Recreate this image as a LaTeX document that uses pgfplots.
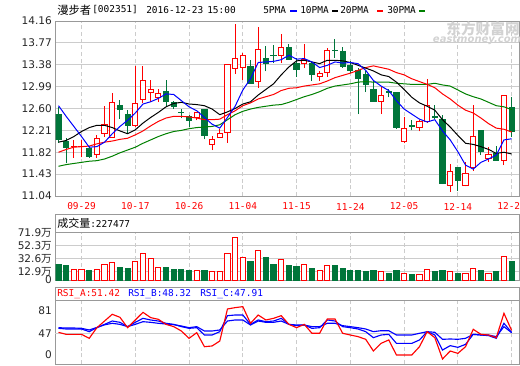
\documentclass[border=0pt]{standalone}
\usepackage{pgfplots}
\pgfplotsset{compat=1.18}
\usepgfplotslibrary{statistics}
\usepackage{fontspec}
\setmainfont{DejaVu Sans}
\newfontfamily\cjk{Noto Sans CJK SC}
\newfontfamily\mono{DejaVu Sans Mono}
\definecolor{kred}{HTML}{FF0000}
\definecolor{kgreen}{HTML}{00753A}
\definecolor{gridc}{HTML}{CCCCCC}
\definecolor{framec}{HTML}{999999}
\definecolor{ma30}{HTML}{008000}
\definecolor{wm}{HTML}{D2D2D2}

\pgfplotsset{
  panel/.style={
    scale only axis, width=347.625pt, anchor=south west,
    xmin=-0.39, xmax=59.96,
    axis line style={framec, line width=0.75pt},
    major tick length=0pt,
    xtick={3,10,17,24,31,38,45,52,59},
    xmajorgrids, ymajorgrids,
    x grid style={gridc, dash pattern=on 3pt off 2pt, line width=0.75pt},
    y grid style={gridc, line width=0.75pt},
    yticklabel style={anchor=east, inner sep=0pt, xshift=-2.6pt, font=\fontsize{7.9}{8}\selectfont, text=black!85},
  },
  kcandle/.style 2 args={
    boxplot/draw direction=y,
    boxplot/box extend=0.68,
    boxplot/draw/median/.code={},
    boxplot/draw/average/.code={},
    boxplot/draw/lower whisker/.code={\draw[#1, line width=0.75pt] (boxplot box cs:\pgfplotsboxplotvalue{lower whisker},0.5) -- (boxplot box cs:\pgfplotsboxplotvalue{lower quartile},0.5);},
    boxplot/draw/upper whisker/.code={\draw[#1, line width=0.75pt] (boxplot box cs:\pgfplotsboxplotvalue{upper quartile},0.5) -- (boxplot box cs:\pgfplotsboxplotvalue{upper whisker},0.5);},
    boxplot/draw/box/.code={\draw[draw=#1, fill=#2, line width=0.75pt] (boxplot box cs:\pgfplotsboxplotvalue{lower quartile},0) rectangle (boxplot box cs:\pgfplotsboxplotvalue{upper quartile},1);},
  },
}
% \cu / \cd {index}{open}{high}{low}{close}
\newcommand\cu[5]{\addplot[kcandle={kred}{white}, boxplot prepared={draw position=#1, lower whisker=#4, lower quartile=#2, median=#2, upper quartile=#5, upper whisker=#3}] coordinates {};}
\newcommand\cd[5]{\addplot[kcandle={kgreen}{kgreen}, boxplot prepared={draw position=#1, lower whisker=#4, lower quartile=#5, median=#5, upper quartile=#2, upper whisker=#3}] coordinates {};}

\pgfplotstableread{
k ma5 ma10 ma20 ma30
0 12.65 12.00 11.82 11.57
1 12.46 12.03 11.87 11.60
2 12.28 12.10 11.91 11.62
3 12.10 12.19 11.92 11.64
4 11.91 12.26 11.93 11.66
5 11.92 12.30 11.97 11.67
6 12.00 12.30 12.00 11.70
7 12.15 12.26 12.02 11.75
8 12.28 12.20 12.05 11.81
9 12.39 12.15 12.07 11.86
10 12.52 12.22 12.13 11.91
11 12.68 12.34 12.20 11.98
12 12.72 12.44 12.29 12.04
13 12.78 12.53 12.37 12.10
14 12.86 12.63 12.43 12.15
15 12.85 12.69 12.46 12.19
16 12.74 12.71 12.46 12.21
17 12.63 12.68 12.45 12.24
18 12.56 12.67 12.43 12.26
19 12.44 12.65 12.40 12.27
20 12.32 12.59 12.40 12.28
21 12.25 12.49 12.41 12.31
22 12.44 12.54 12.49 12.40
23 12.64 12.60 12.56 12.49
24 12.93 12.68 12.65 12.55
25 13.13 12.72 12.70 12.59
26 13.42 12.84 12.77 12.62
27 13.43 12.94 12.81 12.64
28 13.44 13.04 12.85 12.66
29 13.47 13.20 12.92 12.67
30 13.55 13.34 12.96 12.71
31 13.48 13.45 12.97 12.76
32 13.49 13.46 13.00 12.81
33 13.43 13.43 13.02 12.85
34 13.33 13.40 13.04 12.90
35 13.37 13.46 13.09 12.96
36 13.43 13.46 13.15 13.00
37 13.41 13.45 13.19 13.02
38 13.42 13.42 13.23 13.04
39 13.40 13.37 13.28 13.07
40 13.28 13.32 13.33 13.08
41 13.10 13.27 13.36 13.07
42 13.00 13.20 13.33 13.07
43 12.92 13.17 13.30 13.07
44 12.74 13.07 13.24 13.05
45 12.59 12.94 13.20 13.04
46 12.50 12.80 13.13 13.03
47 12.41 12.70 13.08 13.03
48 12.36 12.64 13.03 13.03
49 12.40 12.57 12.97 13.05
50 12.20 12.40 12.86 13.02
51 12.04 12.27 12.77 13.00
52 11.83 12.12 12.66 12.93
53 11.59 11.98 12.57 12.86
54 11.52 11.96 12.52 12.81
55 11.64 11.92 12.43 12.77
56 11.70 11.87 12.33 12.71
57 11.77 11.80 12.25 12.65
58 12.04 11.82 12.23 12.63
59 12.06 11.79 12.18 12.58
}\matable

\pgfplotstableread{
k a b c
0 48.5 54.6 55.6
1 45.4 53.6 55.1
2 45.4 53.6 55.1
3 45.4 53.6 54.6
4 39.3 49.5 52.1
5 55.6 55.6 56.0
6 65.8 60.7 60.0
7 76.1 65.8 62.3
8 71.5 63.8 60.7
9 55.6 57.2 57.2
10 67.4 63.8 60.7
11 79.1 69.9 64.8
12 71.0 67.4 63.8
13 68.4 65.8 62.3
14 60.7 62.3 61.2
15 57.2 60.7 60.2
16 50.5 57.2 58.2
17 39.3 54.6 55.6
18 48.0 55.6 57.2
19 26.5 44.4 50.5
20 27.6 44.4 50.5
21 35.2 49.5 52.1
22 84.2 74.0 65.8
23 86.3 75.0 67.4
24 87.8 75.0 67.4
25 62.3 60.7 59.7
26 75.0 67.4 65.8
27 67.4 64.8 63.8
28 69.9 65.8 63.8
29 74.0 69.9 65.8
30 60.7 60.7 60.7
31 55.6 58.7 59.7
32 60.7 59.7 59.7
33 47.0 54.6 57.2
34 47.0 55.6 57.2
35 68.9 67.4 62.3
36 68.9 65.8 62.3
37 47.0 57.2 58.7
38 44.4 55.6 57.2
39 41.9 53.6 55.6
40 37.8 49.5 53.6
41 19.9 40.3 49.5
42 31.6 44.4 51.0
43 36.8 45.4 51.0
44 13.8 31.6 44.4
45 13.8 31.6 44.4
46 13.8 31.6 44.4
47 26.5 36.8 47.0
48 49.5 49.5 49.5
49 40.3 44.4 48.5
50 7.7 21.4 37.8
51 19.9 28.1 38.3
52 16.3 25.5 37.8
53 26.5 30.1 39.3
54 53.1 45.4 45.4
55 45.4 44.4 44.4
56 44.4 43.4 44.4
57 40.3 39.3 41.9
58 77.6 62.3 57.2
59 51.4 48.3 47.9
}\rsitable

\begin{document}
\begin{tikzpicture}
% ---------------- price panel ----------------
\begin{axis}[panel, at={(41.625pt,126.75pt)}, height=131.25pt,
  ymin=11.04, ymax=14.16,
  ytick={11.04,11.43,11.82,12.21,12.60,12.99,13.38,13.77,14.16},
  yticklabels={11.04,11.43,11.82,12.21,12.60,12.99,13.38,13.77,14.16},
  xticklabels={09-29,10-17,10-26,11-04,11-15,11-24,12-05,12-14,12-23},
  xticklabel style={anchor=center, yshift=-7.9pt, text=kred, font=\mono\fontsize{7.1}{8}\selectfont},
]
\cd{0}{12.50}{12.62}{11.99}{12.05}
\cd{1}{12.02}{12.08}{11.62}{11.91}
\cu{2}{11.92}{12.03}{11.72}{11.93}
\cu{3}{11.92}{12.03}{11.73}{11.93}
\cd{4}{11.88}{11.93}{11.72}{11.75}
\cu{5}{11.78}{12.12}{11.72}{12.06}
\cu{6}{12.16}{12.64}{12.09}{12.31}
\cu{7}{12.09}{12.87}{12.09}{12.71}
\cd{8}{12.65}{12.75}{12.42}{12.59}
\cd{9}{12.49}{12.57}{12.15}{12.30}
\cu{10}{12.29}{13.35}{12.28}{12.69}
\cu{11}{12.76}{13.35}{12.69}{13.10}
\cu{12}{12.89}{13.11}{12.72}{12.94}
\cu{13}{12.79}{12.94}{12.72}{12.86}
\cd{14}{12.91}{13.11}{12.63}{12.72}
\cd{15}{12.70}{12.74}{12.60}{12.64}
\cd{16}{12.53}{12.60}{12.43}{12.52}
\cd{17}{12.45}{12.48}{12.27}{12.39}
\cu{18}{12.44}{12.54}{12.39}{12.52}
\cd{19}{12.58}{12.60}{12.05}{12.11}
\cu{20}{11.96}{12.11}{11.86}{12.05}
\cu{21}{12.08}{12.24}{12.08}{12.16}
\cu{22}{12.18}{13.38}{11.99}{13.38}
\cu{23}{13.31}{14.10}{13.22}{13.49}
\cu{24}{13.33}{13.59}{13.11}{13.55}
\cd{25}{13.35}{13.47}{13.04}{13.05}
\cu{26}{13.08}{14.05}{12.97}{13.65}
\cd{27}{13.50}{13.71}{13.26}{13.41}
\cd{28}{13.55}{13.73}{13.41}{13.54}
\cu{29}{13.55}{13.92}{13.41}{13.69}
\cd{30}{13.69}{13.75}{13.47}{13.47}
\cd{31}{13.41}{13.50}{13.17}{13.30}
\cu{32}{13.41}{13.75}{13.32}{13.47}
\cd{33}{13.40}{13.44}{13.09}{13.20}
\cu{34}{13.17}{13.26}{13.09}{13.22}
\cu{35}{13.24}{13.68}{13.16}{13.64}
\cd{36}{13.64}{13.84}{13.50}{13.63}
\cd{37}{13.61}{13.70}{13.33}{13.34}
\cd{38}{13.37}{13.45}{13.24}{13.27}
\cd{39}{13.27}{13.32}{12.50}{13.14}
\cd{40}{13.21}{13.26}{12.89}{13.02}
\cd{41}{12.94}{13.11}{12.72}{12.72}
\cu{42}{12.72}{12.99}{12.50}{12.83}
\cd{43}{12.90}{12.94}{12.80}{12.89}
\cd{44}{12.89}{12.89}{12.24}{12.26}
\cu{45}{12.01}{12.44}{11.98}{12.25}
\cd{46}{12.29}{12.40}{12.21}{12.28}
\cu{47}{12.27}{12.40}{12.19}{12.36}
\cu{48}{12.36}{13.13}{12.35}{12.65}
\cd{49}{12.46}{12.67}{12.42}{12.44}
\cd{50}{12.41}{12.48}{11.25}{11.27}
\cu{51}{11.22}{11.61}{11.12}{11.48}
\cd{52}{11.54}{11.54}{11.13}{11.31}
\cu{53}{11.23}{11.64}{11.21}{11.45}
\cu{54}{11.54}{12.67}{11.49}{12.10}
\cd{55}{12.21}{12.21}{11.77}{11.84}
\cu{56}{11.71}{11.92}{11.65}{11.78}
\cd{57}{11.79}{11.94}{11.67}{11.67}
\cu{58}{11.67}{12.83}{11.59}{12.83}
\cd{59}{12.61}{12.80}{12.09}{12.19}
\addplot[ma30, line width=0.75pt, mark=none] table[x=k, y=ma30] {\matable};
\addplot[kred, line width=0.75pt, mark=none] table[x=k, y=ma20] {\matable};
\addplot[black, line width=0.75pt, mark=none] table[x=k, y=ma10] {\matable};
\addplot[blue, line width=0.75pt, mark=none] table[x=k, y=ma5] {\matable};
\end{axis}

% ---------------- volume panel ----------------
\begin{axis}[panel, at={(41.625pt,63.75pt)}, height=35.475pt,
  ymin=0, ymax=71.9,
  ytick={0,12.9,32.6,52.3,71.9},
  yticklabels={0,12.9{\cjk 万},32.6{\cjk 万},52.3{\cjk 万},71.9{\cjk 万}},
  xticklabels={},
]
\addplot[ybar, bar width=0.68, bar shift=0pt, draw=kgreen, fill=kgreen, line width=0.75pt] table {
k v
0 24.3
1 21.3
4 15.2
8 19.3
9 17.8
14 19.3
15 16.3
16 16.3
17 15.2
19 15.2
25 27.4
27 33.9
28 24.3
30 21.3
31 19.8
33 18.2
36 21.3
37 18.2
38 15.2
39 15.2
40 12.2
41 13.7
43 10.6
44 15.2
46 9.1
49 12.2
50 15.2
52 10.6
55 13.7
57 12.2
59 27.4
};
\addplot[ybar, bar width=0.68, bar shift=0pt, draw=kred, fill=white, line width=0.75pt] table {
k v
2 16.3
3 16.3
5 16.3
6 23.9
7 26.9
10 28.4
11 40.6
12 33.0
13 19.3
18 15.2
20 12.2
21 12.2
22 40.6
23 64.9
24 34.5
26 45.6
29 31.5
32 23.9
34 15.2
35 22.3
42 12.2
45 10.6
47 9.1
48 16.3
51 13.2
53 10.6
54 17.8
56 10.6
58 36.0
};
\end{axis}

% ---------------- RSI panel ----------------
\begin{axis}[panel, at={(41.625pt,0.75pt)}, height=47.475pt,
  ymin=0, ymax=96.9,
  ytick={47,81}, yticklabels={47,81},
  ymajorgrids=false,
  extra y ticks={47}, extra y tick labels={}, extra y tick style={grid=major},
  xticklabels={},
]
\addplot[blue, line width=0.85pt, mark=none] table[x=k, y=c] {\rsitable};
\addplot[blue, line width=0.85pt, mark=none] table[x=k, y=b] {\rsitable};
\addplot[kred, line width=0.85pt, mark=none] table[x=k, y=a] {\rsitable};
\end{axis}

% ---------------- titles and frames ----------------
\begin{scope}[x=0.75pt, y=-0.75pt, shift={(0pt,273.75pt)}]
\draw[framec, line width=0.75pt] (55.5,232.7) -- (55.5,214) -- (519,214) -- (519,232.7);
\draw[framec, line width=0.75pt] (55.5,300.7) -- (55.5,287.7) -- (519,287.7) -- (519,300.7);
\node[anchor=west, inner sep=0pt, font=\cjk\fontsize{8.5}{9}\selectfont] at (57,10.5) {漫步者};
\node[anchor=west, inner sep=0pt, font=\mono\fontsize{7.1}{8}\selectfont] at (92,10) {[002351]};
\node[anchor=west, inner sep=0pt, font=\mono\fontsize{7.1}{8}\selectfont] at (146,10) {2016-12-23};
\node[anchor=west, inner sep=0pt, font=\mono\fontsize{7.1}{8}\selectfont] at (207,10) {15:00};
\node[anchor=west, inner sep=0pt, font=\mono\fontsize{7.1}{8}\selectfont] at (263,10) {5PMA};
\draw[blue, line width=1.5pt] (290,11) -- (296.5,11);
\node[anchor=west, inner sep=0pt, font=\mono\fontsize{7.1}{8}\selectfont] at (300,10) {10PMA};
\draw[black, line width=1.5pt] (332,11) -- (338,11);
\node[anchor=west, inner sep=0pt, font=\mono\fontsize{7.1}{8}\selectfont] at (340,10) {20PMA};
\draw[kred, line width=1.5pt] (377,11) -- (383,11);
\node[anchor=west, inner sep=0pt, font=\mono\fontsize{7.1}{8}\selectfont] at (387,10) {30PMA};
\draw[ma30, line width=1.5pt] (419,11) -- (425,11);
\node[anchor=west, inner sep=0pt, font=\cjk\fontsize{8.3}{9}\selectfont] at (57,223.5) {成交量};
\node[anchor=west, inner sep=0pt, font=\mono\fontsize{7.1}{8}\selectfont] at (90,223.5) {:227477};
\node[anchor=west, inner sep=0pt, text=kred, font=\mono\fontsize{7.1}{8}\selectfont] at (57,294) {RSI\_A:51.42};
\node[anchor=west, inner sep=0pt, text=blue, font=\mono\fontsize{7.1}{8}\selectfont] at (128,294) {RSI\_B:48.32};
\node[anchor=west, inner sep=0pt, text=blue, font=\mono\fontsize{7.1}{8}\selectfont] at (200,294) {RSI\_C:47.91};
\node[anchor=east, inner sep=0pt, text=black!85, font=\fontsize{7.9}{8}\selectfont] at (52,355) {0};
\node[text=wm, inner sep=0pt, font=\cjk\bfseries\fontsize{11}{12}\selectfont] at (483,29) {东方财富网};
\node[text=wm, inner sep=0pt, font=\bfseries\itshape\fontsize{7.5}{8}\selectfont] at (477,40.5) {eastmoney.com};
\end{scope}
\pgfresetboundingbox
\useasboundingbox (0,0) rectangle (390pt,273.75pt);
\end{tikzpicture}
\end{document}
